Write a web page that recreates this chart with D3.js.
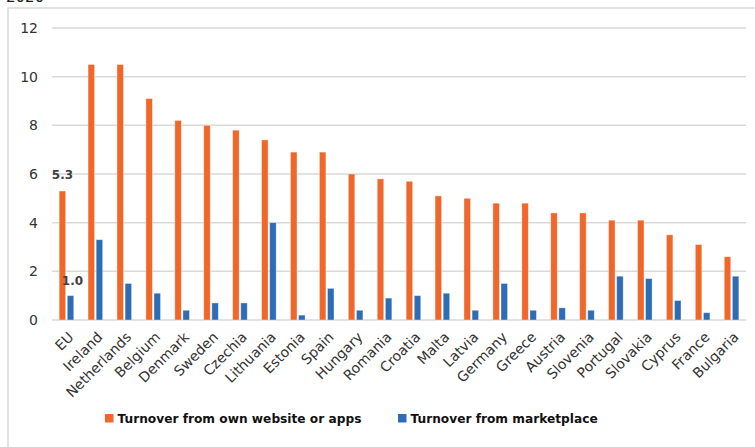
<!DOCTYPE html>
<html>
<head>
<meta charset="utf-8">
<script src="https://cdn.jsdelivr.net/npm/d3@7"></script>
<style>
  html, body { margin: 0; padding: 0; background: #fff; }
  svg { display: block; }
</style>
</head>
<body>
<div id="chart"></div>
<script>
// data
const countries = ["EU", "Ireland", "Netherlands", "Belgium", "Denmark", "Sweden",
  "Czechia", "Lithuania", "Estonia", "Spain", "Hungary", "Romania", "Croatia",
  "Malta", "Latvia", "Germany", "Greece", "Austria", "Slovenia", "Portugal",
  "Slovakia", "Cyprus", "France", "Bulgaria"];
const ownWebsite = [5.3, 10.5, 10.5, 9.1, 8.2, 8.0, 7.8, 7.4, 6.9, 6.9, 6.0, 5.8,
  5.7, 5.1, 5.0, 4.8, 4.8, 4.4, 4.4, 4.1, 4.1, 3.5, 3.1, 2.6];
const marketplace = [1.0, 3.3, 1.5, 1.1, 0.4, 0.7, 0.7, 4.0, 0.2, 1.3, 0.4, 0.9,
  1.0, 1.1, 0.4, 1.5, 0.4, 0.5, 0.4, 1.8, 1.7, 0.8, 0.3, 1.8];
const yTicks = [0, 2, 4, 6, 8, 10, 12];
const seriesNames = ["Turnover from own website or apps", "Turnover from marketplace"];

const width = 755, height = 447;
const orange = "#F0672A", blue = "#2C6DB5";

const svg = d3.select("#chart").append("svg")
  .attr("width", width)
  .attr("height", height)
  .style("font-family", "'DejaVu Sans', Verdana, sans-serif");

// title, mostly cut off at the top like the picture
svg.append("text")
  .attr("x", 6).attr("y", 2)
  .attr("font-size", 15)
  .attr("fill", "#222")
  .text("2020");

// chart border (runs off the right and bottom)
svg.append("rect")
  .attr("x", 8).attr("y", 8)
  .attr("width", 760).attr("height", 460)
  .attr("fill", "none")
  .attr("stroke", "#d9d9d9")
  .attr("stroke-width", 1.5);

const x = d3.scaleBand().domain(countries).range([52, 746]);
const y = d3.scaleLinear().domain([0, 12]).range([320, 28]);

// gridlines
svg.append("g")
  .selectAll("line")
  .data(yTicks)
  .join("line")
  .attr("x1", 52).attr("x2", 746)
  .attr("y1", (d) => y(d)).attr("y2", (d) => y(d))
  .attr("stroke", "#d9d9d9")
  .attr("stroke-width", 1.5);

// y axis labels
svg.append("g")
  .selectAll("text")
  .data(yTicks)
  .join("text")
  .attr("x", 38)
  .attr("y", (d) => y(d))
  .attr("dy", "0.36em")
  .attr("text-anchor", "end")
  .attr("font-size", 14)
  .attr("fill", "#333")
  .text((d) => d);

const barW = 6.5;

// bars
[
  { values: ownWebsite, color: orange, offset: -barW - 0.8 },
  { values: marketplace, color: blue, offset: 0.8 },
].forEach(({ values, color, offset }) => {
  svg.append("g")
    .selectAll("rect")
    .data(countries)
    .join("rect")
    .attr("x", (d) => x(d) + x.bandwidth() / 2 + offset)
    .attr("y", (d, i) => y(values[i]))
    .attr("width", barW)
    .attr("height", (d, i) => y(0) - y(values[i]))
    .attr("fill", color)
    .attr("stroke", "rgba(255,255,255,0.45)")
    .attr("stroke-width", 0.8);
});

// data labels on EU only
svg.append("text")
  .attr("x", x("EU") + x.bandwidth() / 2 - 4)
  .attr("y", y(ownWebsite[0]) - 12)
  .attr("text-anchor", "middle")
  .attr("font-size", 12)
  .attr("font-weight", "bold")
  .attr("fill", "#404040")
  .text(ownWebsite[0].toFixed(1));

svg.append("text")
  .attr("x", x("EU") + x.bandwidth() / 2 + 6)
  .attr("y", y(marketplace[0]) - 11)
  .attr("text-anchor", "middle")
  .attr("font-size", 12)
  .attr("font-weight", "bold")
  .attr("fill", "#404040")
  .text(marketplace[0].toFixed(1));

// x axis labels, rotated
svg.append("g")
  .selectAll("text")
  .data(countries)
  .join("text")
  .attr("transform", (d) => `translate(${x(d) + x.bandwidth() / 2 + 1}, 331) rotate(-45)`)
  .attr("text-anchor", "end")
  .attr("dy", "0.7em")
  .attr("font-size", 14)
  .attr("fill", "#333")
  .text((d) => d);

// legend
const legend = svg.append("g");
[
  { name: seriesNames[0], color: orange, x: 105 },
  { name: seriesNames[1], color: blue, x: 398 },
].forEach(({ name, color, x: lx }) => {
  legend.append("rect")
    .attr("x", lx).attr("y", 414)
    .attr("width", 8.5).attr("height", 8.5)
    .attr("fill", color);
  legend.append("text")
    .attr("x", lx + 12.5).attr("y", 418.5)
    .attr("dy", "0.36em")
    .attr("font-size", 12.2)
    .attr("font-weight", "bold")
    .attr("fill", "#111")
    .text(name);
});
</script>
</body>
</html>
